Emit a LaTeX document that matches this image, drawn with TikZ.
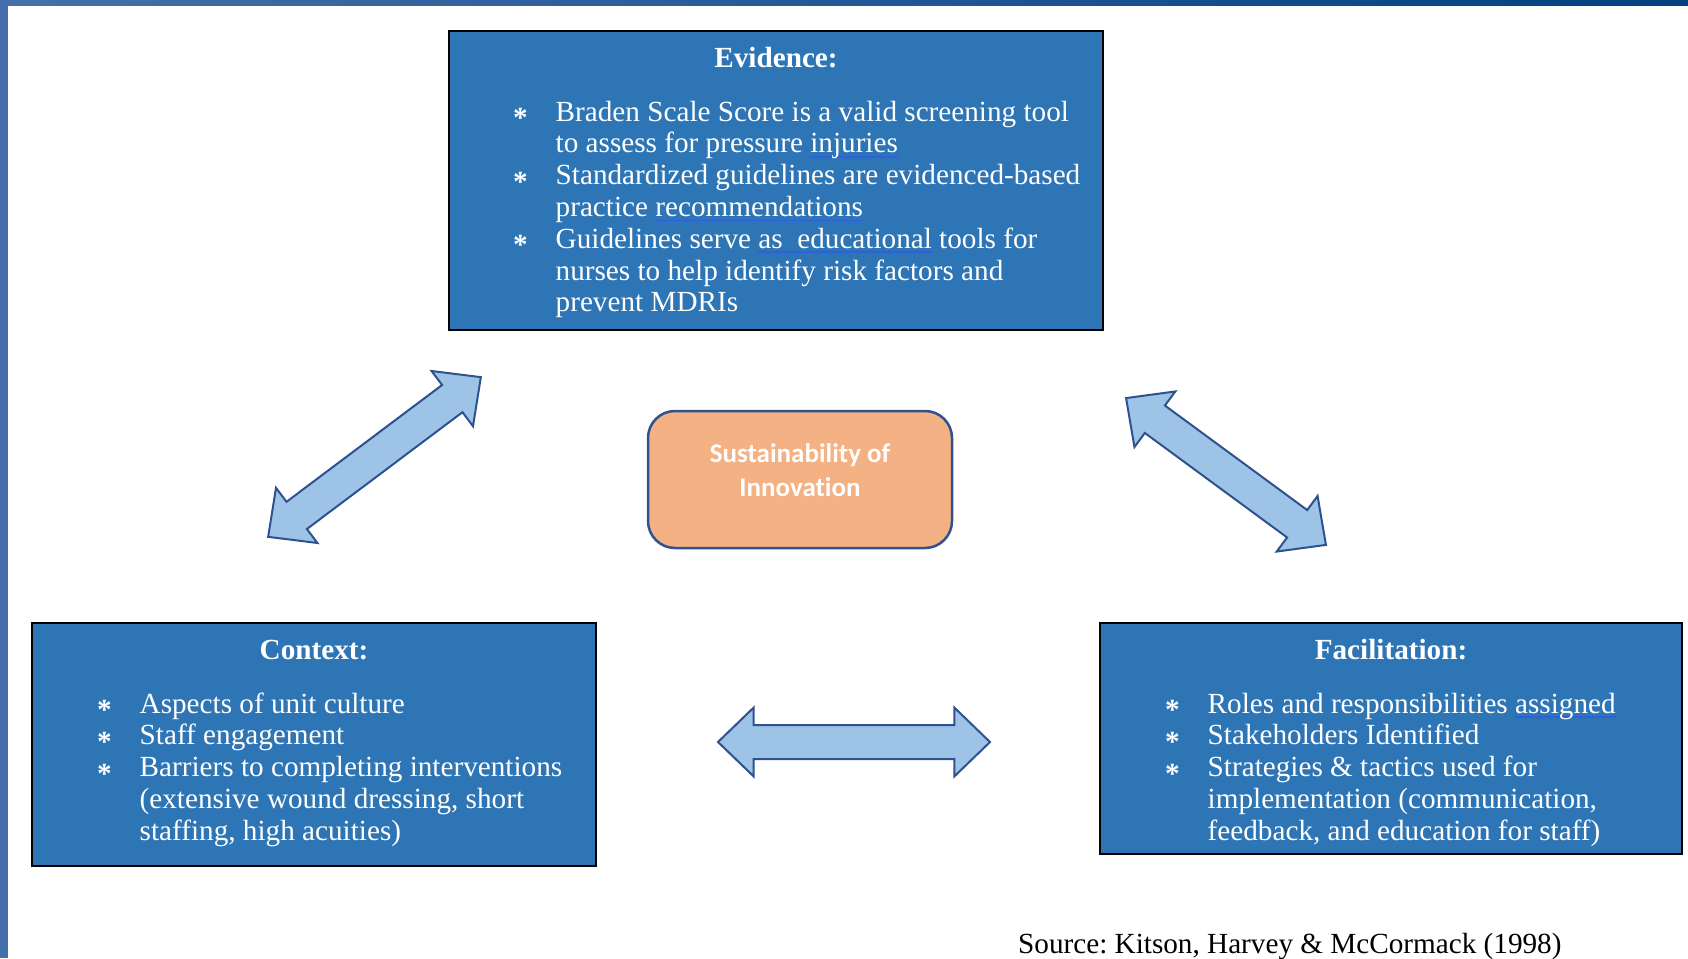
\documentclass[tikz,border=0pt]{standalone}
\usepackage{fontspec}
\setmainfont{Liberation Serif}
\newfontfamily\calfont[Ligatures=NoCommon]{Carlito}
\usetikzlibrary{shapes.arrows}

\definecolor{panelblue}{HTML}{2E75B6}
\definecolor{arrowfill}{HTML}{9DC3E6}
\definecolor{arrowline}{HTML}{2F528F}
\definecolor{peach}{HTML}{F4B183}
\definecolor{frameleft}{HTML}{4670AC}
\definecolor{frameright}{HTML}{00417F}
\definecolor{squigblue}{HTML}{2D5FE0}

\newsavebox{\squigbox}
\newcommand{\squig}[1]{\sbox{\squigbox}{#1}%
	\rlap{\color{squigblue}\rule[-5pt]{\wd\squigbox}{1.8pt}}\usebox{\squigbox}}
\newcommand{\bul}{\raisebox{-0.22em}{\bfseries *}}

\begin{document}
\frenchspacing
\begin{tikzpicture}[x=1pt, y=-1pt,
		panel/.style = {draw=black, line width=2.5pt, fill=panelblue,
				inner sep=0pt},
		boxtitle/.style = {text=white, inner sep=0pt, anchor=base,
				font=\bfseries\fontsize{29.2}{31.8}\selectfont},
		bullets/.style = {text=white, inner sep=0pt, anchor=base west,
				font=\fontsize{29.2}{31.8}\selectfont},
		twoway/.style = {double arrow, draw=arrowline, line width=2pt,
				fill=arrowfill, inner xsep=0pt, inner ysep=16pt,
				double arrow head extend=17.5pt, double arrow tip angle=88}
	]
	\useasboundingbox (0,0) rectangle (1688,958);

	% slide frame
	\shade[left color=frameleft, right color=frameright] (0,0) rectangle (1688,6);
	\fill[frameleft] (0,0) rectangle (8,958);

	\node[panel, minimum width=654pt, minimum height=299pt] (evidence) at (776,180.5) {};
	\node[panel, minimum width=564pt, minimum height=243pt] (context) at (314,744.5) {};
	\node[panel, minimum width=582pt, minimum height=231pt] (facilitation) at (1391,738.5) {};

	\node[draw=arrowline, line width=2.5pt, fill=peach, rounded corners=27pt,
		minimum width=304pt, minimum height=137pt] (core) at (800,479.5) {};
	\node[anchor=base, inner sep=0pt, text=white,
		font=\calfont\bfseries\fontsize{27}{34}\selectfont] (coreText) at (800,462)
	{\begin{tabular}[t]{@{}c@{}}Sustainability of\\Innovation\end{tabular}};

	\node[boxtitle] (evTitle) at (776,67) {Evidence:};
	\node[boxtitle] (coTitle) at (314,659) {Context:};
	\node[boxtitle] (faTitle) at (1391,659) {Facilitation:};

	\node[bullets] (evList) at (513,121) {\begin{tabular}[t]{@{}p{42.5pt}@{}l@{}}
			\bul & Braden Scale Score is a valid screening tool\\
			     & to assess for pressure \squig{injuries}\\
			\bul & Standardized guidelines are evidenced-based\\
			     & practice \squig{recommendations}\\
			\bul & Guidelines serve \squig{as\ \ educational} tools for\\
			     & nurses to help identify risk factors and\\
			     & prevent MDRIs
		\end{tabular}};
	\node[bullets] (coList) at (97,713) {\begin{tabular}[t]{@{}p{42.5pt}@{}l@{}}
			\bul & Aspects of unit culture\\
			\bul & Staff engagement\\
			\bul & Barriers to completing interventions\\
			     & (extensive wound dressing, short\\
			     & staffing, high acuities)
		\end{tabular}};
	\node[bullets] (faList) at (1165,713) {\begin{tabular}[t]{@{}p{42.5pt}@{}l@{}}
			\bul & Roles and responsibilities \squig{assigned}\\
			\bul & Stakeholders Identified\\
			\bul & Strategies \& tactics used for\\
			     & implementation (communication,\\
			     & feedback, and education for staff)
		\end{tabular}};

	% two-way block arrows
	\node[twoway, minimum height=266pt, rotate=36.9] (evCoArrow) at (374.5,457) {};
	\node[twoway, minimum height=248pt, rotate=-36.3] (evFaArrow) at (1226,471.5) {};
	\node[twoway, minimum height=272pt] (coFaArrow) at (854,742) {};

	\node[anchor=base west, inner sep=0pt, font=\fontsize{29.2}{31.8}\selectfont]
	(source) at (1018,953) {Source: Kitson, Harvey \& McCormack (1998)};
\end{tikzpicture}
\end{document}
